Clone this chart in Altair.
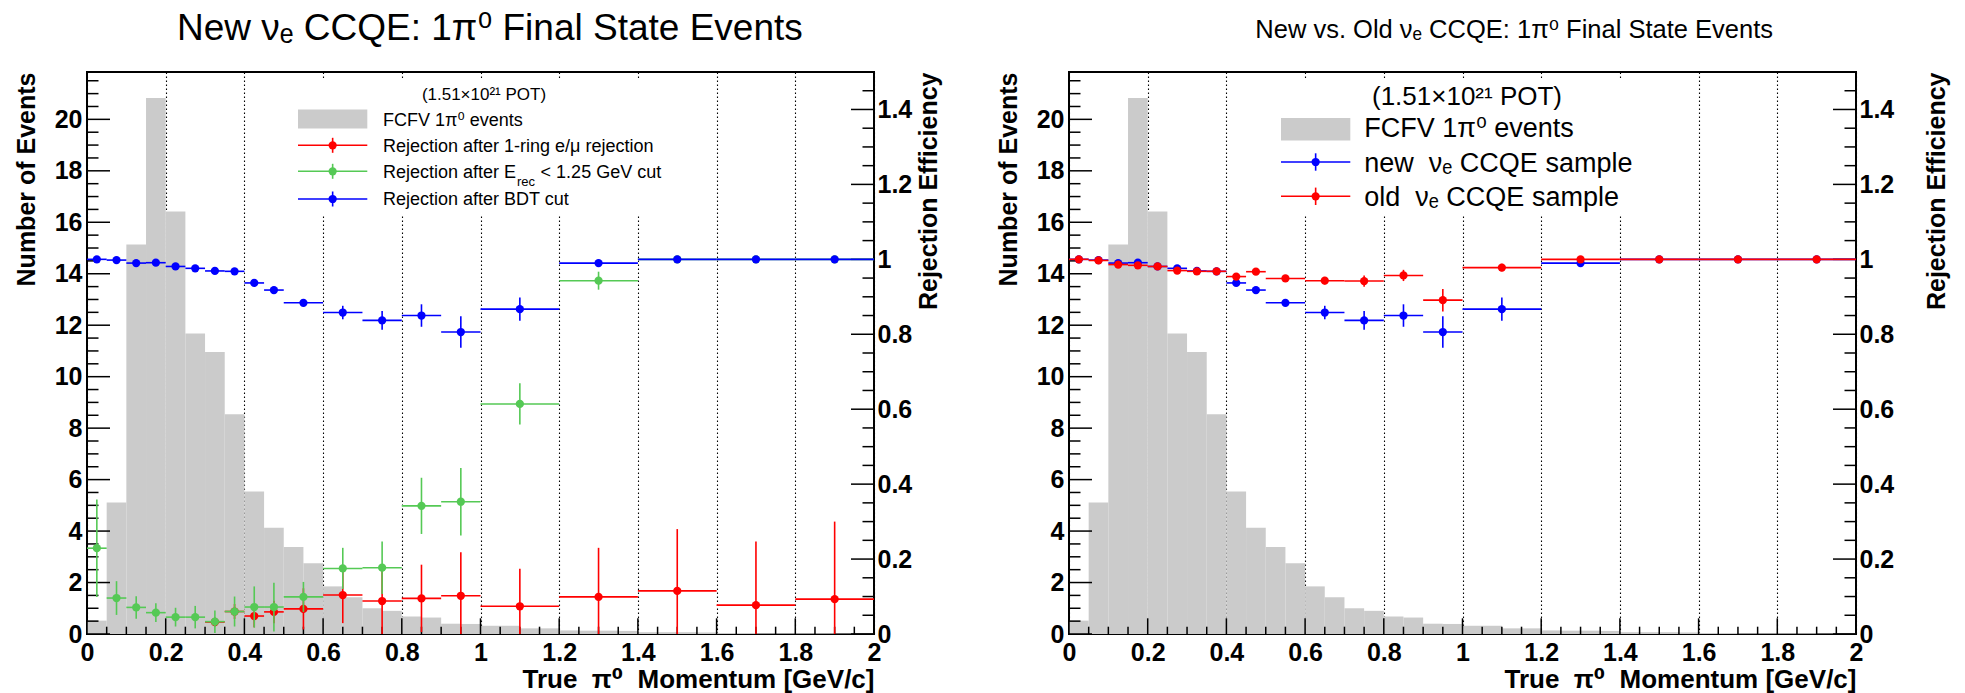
import altair as alt
import pandas as pd

# ---------------- data ----------------
hist_edges = [round(0.05 * i, 2) for i in range(41)]
hist_counts = [0.52, 5.11, 15.14, 20.83, 16.42, 11.68, 10.96, 8.54, 5.54, 4.13,
               3.38, 2.75, 1.85, 1.43, 1.00, 0.90, 0.68, 0.64, 0.40, 0.39,
               0.32, 0.32, 0.22, 0.22, 0.14, 0.13, 0.13, 0.12, 0.07, 0.07,
               0.07, 0.06, 0.04, 0.04, 0.03, 0.03, 0.03, 0.03, 0.02, 0.02]

rej_edges = [0.0, 0.05, 0.1, 0.15, 0.2, 0.25, 0.3, 0.35, 0.4, 0.45, 0.5,
             0.6, 0.7, 0.8, 0.9, 1.0, 1.2, 1.4, 1.6, 1.8, 2.0]

rej_1ring = [None, None, None, None, None, None, 0.032, 0.060, 0.048, 0.059,
             0.067, 0.104, 0.088, 0.095, 0.102, 0.074, 0.099, 0.115, 0.077, 0.093]
rej_1ring_err = [None, None, None, None, None, None, 0.012, 0.020, 0.030, 0.030,
                 0.055, 0.075, 0.095, 0.090, 0.116, 0.100, 0.131, 0.165, 0.170, 0.207]

rej_erec = [0.229, 0.096, 0.071, 0.057, 0.045, 0.045, 0.033, 0.060, 0.072, 0.072,
            0.099, 0.175, 0.177, 0.342, 0.353, 0.614, 0.943, 1.0, 1.0, 1.0]
rej_erec_err = [0.130, 0.045, 0.030, 0.025, 0.025, 0.030, 0.030, 0.040, 0.055, 0.065,
                0.040, 0.055, 0.070, 0.075, 0.090, 0.055, 0.024, 0.0, 0.0, 0.0]

rej_bdt = [1.0, 0.998, 0.990, 0.991, 0.981, 0.976, 0.969, 0.968, 0.937, 0.918,
           0.884, 0.858, 0.837, 0.850, 0.806, 0.867, 0.990, 1.0, 1.0, 1.0]
rej_bdt_err = [0.003, 0.003, 0.004, 0.004, 0.005, 0.005, 0.006, 0.006, 0.008, 0.009,
               0.008, 0.018, 0.025, 0.030, 0.042, 0.031, 0.006, 0.0, 0.0, 0.0]

rej_old = [1.0, 0.997, 0.986, 0.984, 0.981, 0.970, 0.968, 0.968, 0.954, 0.967,
           0.949, 0.943, 0.942, 0.957, 0.891, 0.978, 1.0, 1.0, 1.0, 1.0]
rej_old_err = [0.003, 0.003, 0.004, 0.004, 0.005, 0.005, 0.006, 0.006, 0.008, 0.008,
               0.008, 0.010, 0.015, 0.015, 0.030, 0.010, 0.003, 0.0, 0.0, 0.0]

x_major = [round(0.2 * i, 1) for i in range(11)]
x_minor = [round(0.05 * i, 2) for i in range(41) if i % 4 != 0]
yl_major = [2 * i for i in range(11)]
yl_minor = [0.5 * i for i in range(44) if i % 4 != 0]
yr_major = [round(0.2 * i, 1) for i in range(8)]
yr_minor = [round(0.05 * i, 2) for i in range(30) if i % 4 != 0]

# ---------------- style ----------------
W, H = 787, 562
LMAX = 21.84
RMAX = 1.5
FONT = "Liberation Sans, DejaVu Sans"
GRAY = "#cbcbcb"
RED, GREEN, BLUE = "#ff0000", "#55c955", "#0000ff"
MSIZE = 68
NB = "\u00a0"

XSC = alt.Scale(domain=[0, 2], nice=False, zero=False)
YL = alt.Scale(domain=[0, LMAX], nice=False, zero=False)
YR = alt.Scale(domain=[0, RMAX], nice=False, zero=False)
ONE = pd.DataFrame({"d": [0]})

XAXIS = alt.Axis(values=x_major, format="~g", grid=True, gridDash=[1.5, 2.5],
                 gridColor="black", gridWidth=1.1, gridOpacity=1, ticks=False,
                 tickSize=0, domain=False, labelFlush=False, labelOverlap=False,
                 labelFont=FONT, labelFontSize=25, labelFontWeight="bold",
                 labelPadding=6,
                 title="True" + NB + " \u03c0\u2070" + NB + " Momentum [GeV/c]",
                 titleFont=FONT, titleFontSize=26, titleFontWeight="bold",
                 titleAnchor="end", titleAlign="right", titleX=W, titleY=53,
                 titleBaseline="alphabetic")


def X(field):
    return alt.X(field, scale=XSC, axis=XAXIS)


hist_df = pd.DataFrame({"lo": hist_edges[:-1], "hi": hist_edges[1:],
                        "n": hist_counts, "z": [0.0] * len(hist_counts)})


def hist_layer():
    yaxis = alt.Axis(values=yl_major, format="~g", grid=False, ticks=False, tickSize=0,
                     domain=False, labelFont=FONT, labelFontSize=25,
                     labelFontWeight="bold", labelPadding=5, labelOverlap=False,
                     title="Number of Events", titleFont=FONT, titleFontSize=25,
                     titleFontWeight="bold", titleAngle=270, titleAlign="right",
                     titleBaseline="middle", titleX=-61, titleY=0)
    return alt.Chart(hist_df).mark_rect(color=GRAY).encode(
        x=X("lo:Q"), x2="hi:Q",
        y=alt.Y("n:Q", scale=YL, axis=yaxis), y2="z:Q")


def tick_layers(right_title_x):
    out = []
    for vals, ln in ((x_major, 15.7), (x_minor, 7.3)):
        out.append(alt.Chart(pd.DataFrame({"t": vals})).mark_rule(color="black", strokeWidth=1.5).encode(
            x=X("t:Q"), y=alt.value(H), y2=alt.value(H - ln)))
    for vals, ln in ((yl_major, 23), (yl_minor, 11.5)):
        out.append(alt.Chart(pd.DataFrame({"t": vals})).mark_rule(color="black", strokeWidth=1.5).encode(
            y=alt.Y("t:Q", scale=YL, axis=None), x=alt.value(0), x2=alt.value(ln)))
    raxis = alt.Axis(orient="right", values=yr_major, format="~g", grid=False, ticks=False,
                     tickSize=0, domain=False, labelFont=FONT, labelFontSize=25,
                     labelFontWeight="bold", labelPadding=3, labelOverlap=False,
                     title="Rejection Efficiency", titleFont=FONT, titleFontSize=25,
                     titleFontWeight="bold", titleAngle=270, titleAlign="right",
                     titleBaseline="middle", titleX=right_title_x, titleY=0)
    out.append(alt.Chart(pd.DataFrame({"t": yr_major})).mark_rule(color="black", strokeWidth=1.5).encode(
        y=alt.Y("t:Q", scale=YR, axis=raxis), x=alt.value(W - 23), x2=alt.value(W)))
    out.append(alt.Chart(pd.DataFrame({"t": yr_minor})).mark_rule(color="black", strokeWidth=1.5).encode(
        y=alt.Y("t:Q", scale=YR, axis=None), x=alt.value(W - 11.5), x2=alt.value(W)))
    return out


def series(vals, errs, color):
    rows = []
    for lo, hi, v, e in zip(rej_edges[:-1], rej_edges[1:], vals, errs):
        if v is None:
            continue
        rows.append(dict(lo=lo, hi=hi, c=(lo + hi) / 2, v=v, vlo=v - e, vhi=v + e))
    base = alt.Chart(pd.DataFrame(rows))
    h = base.mark_rule(color=color, strokeWidth=1.6, clip=True).encode(
        x=X("lo:Q"), x2="hi:Q",
        y=alt.Y("v:Q", scale=YR, axis=None))
    v = base.mark_rule(color=color, strokeWidth=1.6, clip=True).encode(
        x=X("c:Q"),
        y=alt.Y("vlo:Q", scale=YR, axis=None), y2="vhi:Q")
    p = base.mark_circle(color=color, size=MSIZE, opacity=1, clip=True).encode(
        x=X("c:Q"), y=alt.Y("v:Q", scale=YR, axis=None))
    return [h, v, p]


def text(txt, x, y, size, align="left", weight="normal"):
    return alt.Chart(ONE).mark_text(text=txt, font=FONT, fontSize=size, fontWeight=weight,
                                    align=align, baseline="alphabetic", color="black").encode(
        x=alt.value(x), y=alt.value(y))


def box(x1, x2, y1, y2, color):
    return alt.Chart(ONE).mark_rect(color=color).encode(
        x=alt.value(x1), x2=alt.value(x2), y=alt.value(y1), y2=alt.value(y2))


def leg_marker(x1, x2, y, half, color):
    xc = (x1 + x2) / 2
    return [
        alt.Chart(ONE).mark_rule(color=color, strokeWidth=1.6).encode(
            x=alt.value(x1), x2=alt.value(x2), y=alt.value(y)),
        alt.Chart(ONE).mark_rule(color=color, strokeWidth=1.6).encode(
            x=alt.value(xc), y=alt.value(y - half), y2=alt.value(y + half)),
        alt.Chart(ONE).mark_point(shape="circle", filled=True, color=color, size=MSIZE, opacity=1).encode(
            x=alt.value(xc), y=alt.value(y)),
    ]


# ---------------- left panel ----------------
fs = 18
left_legend = [
    text("(1.51\u00d710\u00b2\u00b9 POT)", 397, 27.6, 17, align="center"),
    box(211, 280.3, 37.6, 56.6, GRAY),
    text("FCFV 1\u03c0\u2070 events", 296, 47.1 + 0.36 * fs, fs),
    *leg_marker(211, 280.3, 73.3, 7.5, RED),
    text("Rejection after 1-ring e/\u03bc rejection", 296, 73.3 + 0.36 * fs, fs),
    *leg_marker(211, 280.3, 99.3, 7.5, GREEN),
    text("Rejection after E", 296, 99.3 + 0.36 * fs, fs),
    text("rec", 430, 114.3, 13),
    text("< 1.25 GeV cut", 453.6, 99.3 + 0.36 * fs, fs),
    *leg_marker(211, 280.3, 127, 7.5, BLUE),
    text("Rejection after BDT cut", 296, 127 + 0.36 * fs, fs),
]
left_title = text("New \u03bd\u2091 CCQE: 1\u03c0\u2070 Final State Events", 90, -32.4, 37)
anchor = box(-85.7, -84.7, -70.7, -69.7, "white")

left = alt.layer(
    hist_layer(), box(204, 594, 6.3, 142.3, "white"), *tick_layers(54),
    *series(rej_1ring, rej_1ring_err, RED),
    *series(rej_erec, rej_erec_err, GREEN),
    *series(rej_bdt, rej_bdt_err, BLUE),
    *left_legend, left_title, anchor,
).properties(width=W, height=H).resolve_scale(y="independent")

# ---------------- right panel ----------------
fr = 27
right_legend = [
    text("(1.51\u00d710\u00b2\u00b9 POT)", 398, 32.6, 26, align="center"),
    box(212, 281.3, 46, 68.6, GRAY),
    text("FCFV 1\u03c0\u2070 events", 295.3, 64.5, fr),
    *leg_marker(212, 281.3, 90, 8.7, BLUE),
    text("new" + NB + " \u03bd\u2091 CCQE sample", 295.3, 90 + 0.36 * fr, fr),
    *leg_marker(212, 281.3, 124.3, 8.7, RED),
    text("old" + NB + " \u03bd\u2091 CCQE sample", 295.3, 124.3 + 0.36 * fr, fr),
]
right_title = text("New vs. Old \u03bd\u2091 CCQE: 1\u03c0\u2070 Final State Events", 704, -34, 25.5,
                   align="right")

right = alt.layer(
    hist_layer(), box(204, 594, 6.3, 142.3, "white"), *tick_layers(80),
    *series(rej_bdt, rej_bdt_err, BLUE),
    *series(rej_old, rej_old_err, RED),
    *right_legend, right_title,
).properties(width=W, height=H).resolve_scale(y="independent")

chart = alt.hconcat(left, right, spacing=195, bounds="flush").properties(
    padding={"left": 0, "top": 0, "right": 5, "bottom": 0}
).configure_view(stroke="black", strokeWidth=2).configure_axis(
    labelColor="black", titleColor="black")

chart.save("out.html", embed_options={"renderer": "svg", "actions": False})
